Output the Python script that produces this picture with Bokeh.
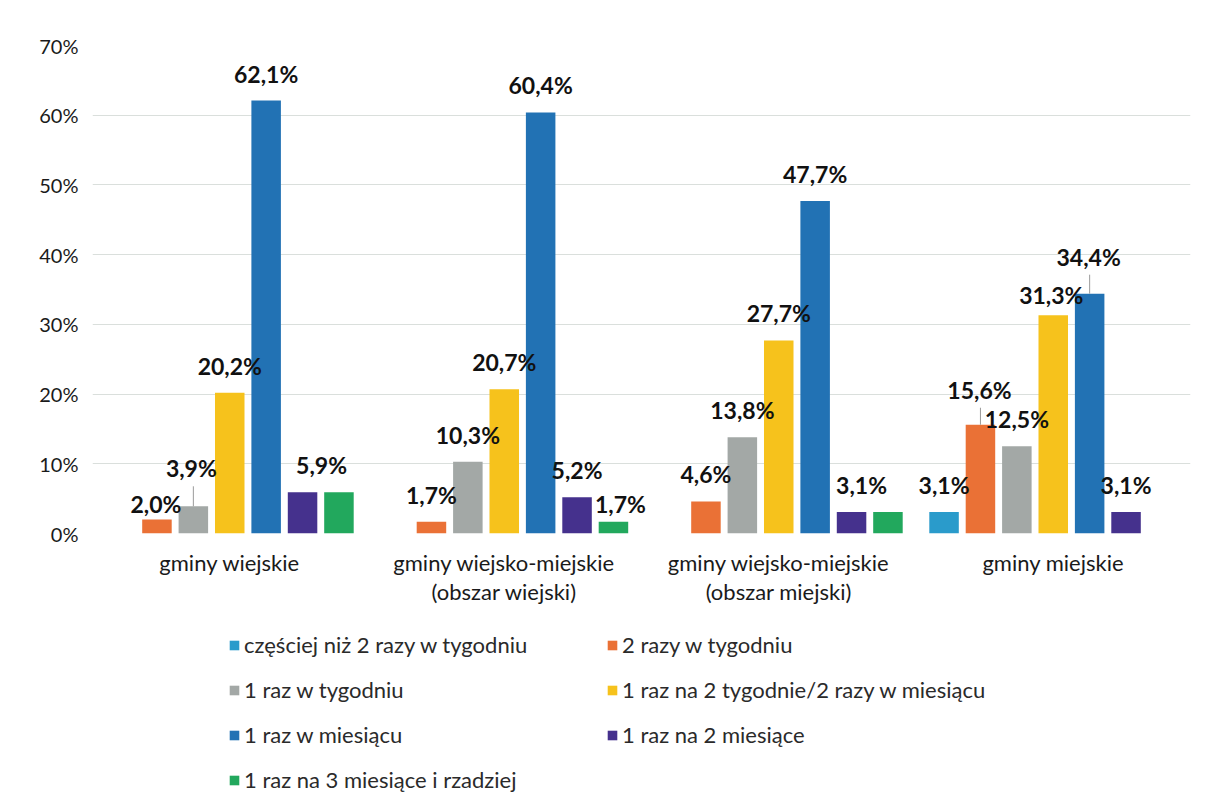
from bokeh.plotting import figure
from bokeh.layouts import column
from bokeh.models import Range1d, FixedTicker, Legend, LegendItem, ColumnDataSource
from bokeh.core.properties import value
from bokeh.embed import file_html
from bokeh.resources import INLINE

# ---------------- data ----------------
categories = [
    "gminy wiejskie",
    "gminy wiejsko-miejskie\n(obszar wiejski)",
    "gminy wiejsko-miejskie\n(obszar miejski)",
    "gminy miejskie",
]
series_names = [
    "częściej niż 2 razy w tygodniu",
    "2 razy w tygodniu",
    "1 raz w tygodniu",
    "1 raz na 2 tygodnie/2 razy w miesiącu",
    "1 raz w miesiącu",
    "1 raz na 2 miesiące",
    "1 raz na 3 miesiące i rzadziej",
]
czesciej_niz_2_razy = [0.0, 0.0, 0.0, 3.1]
dwa_razy_w_tygodniu = [2.0, 1.7, 4.6, 15.6]
raz_w_tygodniu = [3.9, 10.3, 13.8, 12.5]
raz_na_2_tygodnie = [20.2, 20.7, 27.7, 31.3]
raz_w_miesiacu = [62.1, 60.4, 47.7, 34.4]
raz_na_2_miesiace = [5.9, 5.2, 3.1, 3.1]
raz_na_3_miesiace = [5.9, 1.7, 3.1, 0.0]
series_values = [czesciej_niz_2_razy, dwa_razy_w_tygodniu, raz_w_tygodniu,
                 raz_na_2_tygodnie, raz_w_miesiacu, raz_na_2_miesiace,
                 raz_na_3_miesiace]
y_ticks = [0, 10, 20, 30, 40, 50, 60, 70]
y_tick_labels = ["0%", "10%", "20%", "30%", "40%", "50%", "60%", "70%"]

# ---------------- style ----------------
colors = ["#2A9BCB", "#EA7136", "#A3A8A6", "#F6C21C", "#2272B4", "#45318D", "#22A85D"]
FONT = "Lato"
W = 1208
H_MAIN, H_LEG = 620, 184
LEFT, RIGHT, TOP, BOTTOM = 92, 18, 45, 87
FRAME_H = H_MAIN - TOP - BOTTOM
Y_MAX = 70
PX = FRAME_H / Y_MAX          # pixels per percent
STEP = 0.1326                 # bar slot width (in category units)
BAR_W = 0.1075
LABEL_ABOVE = 27              # label centre above bar top (px)
# per-label nudges (group, series) -> (dx, dy) px ; None hides label
label_nudge = {
    (0, 1): (-1, 11), (0, 2): (-2, -11), (0, 5): (19, 0), (0, 6): None,
    (1, 6): (7, 9),
    (2, 5): (10, 0), (2, 6): None,
    (3, 1): (-1, -8), (3, 3): (-2, 7), (3, 4): (-1, -10),
}
leaders = [(0, 2), (3, 1), (3, 4)]

p = figure(width=W, height=H_MAIN,
           x_range=Range1d(0, len(categories)), y_range=Range1d(0, Y_MAX),
           output_backend="svg", toolbar_location=None,
           min_border_left=LEFT, min_border_right=RIGHT, min_border_top=TOP,
           min_border_bottom=BOTTOM)
p.outline_line_color = None
p.background_fill_color = "white"
p.border_fill_color = "white"

lx, ly, lt, lxo, lyo = [], [], [], [], []
seg_x, seg_y0, seg_y1 = [], [], []
for k, (name, vals) in enumerate(zip(series_names, series_values)):
    xs = [i + 0.5 + (k - 3) * STEP for i in range(len(categories))]
    src = ColumnDataSource(dict(x=xs, top=vals))
    p.vbar(x="x", top="top", width=BAR_W, source=src,
           fill_color=colors[k], line_color=None)
    for i, v in enumerate(vals):
        if v <= 0:
            continue
        nud = label_nudge.get((i, k), (0, 0))
        if nud is None:
            continue
        dx, dy = nud
        lx.append(xs[i]); ly.append(v)
        lt.append(f"{v:.1f}".replace(".", ",") + "%")
        lxo.append(dx); lyo.append(-(LABEL_ABOVE - dy))
        if (i, k) in leaders:
            above = LABEL_ABOVE - dy
            seg_x.append(xs[i]); seg_y0.append(v)
            seg_y1.append(v + (above - 18) / PX)

p.segment(x0=seg_x, y0=seg_y0, x1=seg_x, y1=seg_y1,
          line_color="#9A9A9A", line_width=1)

lsrc = ColumnDataSource(dict(x=lx, y=ly, text=lt, xo=lxo, yo=lyo))
p.text(x="x", y="y", text="text", x_offset="xo", y_offset="yo", source=lsrc,
       text_font=value(FONT), text_font_style="bold", text_font_size="23px",
       text_color="#111111", text_align="center", text_baseline="middle")

# grid & axes
p.xgrid.visible = False
p.ygrid.ticker = FixedTicker(ticks=y_ticks)
p.ygrid.grid_line_color = "#DADFDC"
p.ygrid.grid_line_width = 1

p.yaxis.ticker = FixedTicker(ticks=y_ticks)
p.yaxis.major_label_overrides = {t: l for t, l in zip(y_ticks, y_tick_labels)}
p.yaxis.axis_line_color = None
p.yaxis.major_tick_line_color = None
p.yaxis.minor_tick_line_color = None
p.yaxis.major_label_standoff = 8
p.yaxis.major_label_text_font = FONT
p.yaxis.major_label_text_font_size = "20px"
p.yaxis.major_label_text_color = "#1A1A1A"

cat_ticks = [i + 0.5 for i in range(len(categories))]
p.xaxis.ticker = FixedTicker(ticks=cat_ticks)
p.xaxis.major_label_overrides = {t: c for t, c in zip(cat_ticks, categories)}
p.xaxis.axis_line_color = None
p.xaxis.major_tick_line_color = None
p.xaxis.minor_tick_line_color = None
p.xaxis.major_tick_out = 0
p.xaxis.major_label_standoff = 15
p.xaxis.major_label_text_font = FONT
p.xaxis.major_label_text_font_size = "22px"
p.xaxis.major_label_text_color = "#1A1A1A"
p.xaxis.major_label_text_line_height = 1.1

# ---------------- legend (separate strip below the chart) ----------------
pl = figure(width=W, height=H_LEG, x_range=Range1d(0, 1), y_range=Range1d(0, 1),
            output_backend="svg", toolbar_location=None,
            x_axis_location=None, y_axis_location=None,
            min_border_left=0, min_border_right=0, min_border_top=0,
            min_border_bottom=0)
pl.outline_line_color = None
pl.xgrid.visible = False
pl.ygrid.visible = False
items = []
nan = float("nan")
for k, name in enumerate(series_names):
    # legend-only proxy renderer (no visible mark)
    r = pl.vbar(x=[nan], top=[nan], width=0.1, fill_color=colors[k], line_color=None)
    items.append(LegendItem(label=name, renderers=[r]))

LEG_X = 233 - 5 - LEFT      # legend box left, relative to aligned frame
LEG_BOTTOM = 793 - H_MAIN   # legend box bottom, measured from strip top
legend = Legend(items=items, ncols=2, orientation="horizontal",
                location=(LEG_X, H_LEG - LEG_BOTTOM),
                glyph_width=12, glyph_height=12, label_standoff=4,
                label_height=26, label_width=344, spacing=18,
                padding=5, margin=0,
                label_text_font=FONT, label_text_font_size="22px",
                label_text_color="#2A2A2A",
                border_line_color=None, background_fill_alpha=0)
pl.add_layout(legend, "center")

layout = column(p, pl, spacing=0)
open("out.html", "w").write(file_html(layout, INLINE))
